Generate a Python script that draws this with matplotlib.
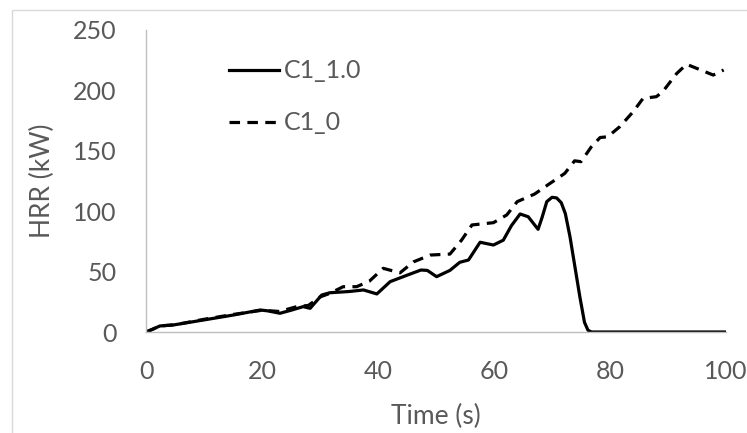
import matplotlib
matplotlib.use("Agg")
import matplotlib.pyplot as plt
from matplotlib.patches import Rectangle

# C1_1.0 (solid)
t_solid = [0, 1, 2.4, 4.7, 10, 15, 19.7, 21, 23.1, 25, 27.1, 28.3, 30.3, 31.7, 35,
           37.5, 39.8, 42.1, 45, 47.4, 48.5, 50.1, 52.4, 54.1, 55.6, 57.6, 59.9,
           61.6, 63, 64.5, 65.9, 67.6, 68.3, 69.1, 70, 70.8, 71.6, 72.3, 73.1, 74.8,
           75.6, 76.2, 76.8, 80, 90, 100]
hrr_solid = [0, 2, 5, 5.8, 10, 14, 18.2, 17.5, 15.5, 18, 21, 19.6, 30.6, 32.5, 33.5,
             34.8, 31.5, 41.7, 47, 51.3, 51, 45.8, 51, 57.7, 59.6, 74.3, 72,
             76, 88, 97.7, 95.4, 85, 95, 107.9, 111.5, 111, 107, 98, 78.9, 29.2,
             8, 1.5, 0, 0, 0, 0]

# C1_0 (dashed)
t_dash = [0, 1, 2.4, 5, 10, 15, 20, 23, 26, 28, 30, 31.7, 34, 36.3, 38.5, 40.9, 43.8,
          46.1, 49, 52.4, 54.4, 56.2, 59.9, 62.2, 64, 67, 69.5, 72.2, 73.9, 75,
          76.8, 78.3, 79.6, 81.7, 84, 85.7, 88, 89.1, 91.5, 93.2, 94.3, 97.8, 99.6]
hrr_dash = [0, 2, 5, 6, 10.5, 14.5, 18, 17, 21, 22, 29, 32, 37.5, 37.5, 42, 52.7, 49,
            58, 63.7, 64.5, 76, 88.6, 90.5, 96.9, 107.9, 114.2, 122.5, 131.3, 141.7, 141,
            153.4, 161, 161.6, 170, 182.4, 193.4, 194.8, 199, 214, 221.6, 219.5, 212.7, 216.9]

gray = "#595959"
plt.rcParams['font.family'] = ['Lato', 'DejaVu Sans']

fig = plt.figure(figsize=(7.47, 4.33), dpi=100)
fig.patches.append(Rectangle((12/747, -0.1), 1.2, 1 - 10/433 + 0.1, transform=fig.transFigure,
                             fill=False, edgecolor="#d9d9d9", linewidth=1))
ax = fig.add_axes([146/747, 1 - 332/433, 580/747, 302/433])

ax.plot(t_solid, hrr_solid, color="black", lw=2.3, label="C1_1.0", solid_joinstyle="round")
ax.plot(t_dash, hrr_dash, color="black", lw=2.3, linestyle=(0, (3.3, 2.3)), label="C1_0")

ax.set_xlim(0, 100)
ax.set_ylim(0, 250)
ax.set_xticks([0, 20, 40, 60, 80, 100])
ax.set_yticks([0, 50, 100, 150, 200, 250])
for s in ["top", "right"]:
    ax.spines[s].set_visible(False)
for s in ["left", "bottom"]:
    ax.spines[s].set_color("#bfbfbf")
    ax.spines[s].set_linewidth(1)
ax.tick_params(length=0, labelsize=18, colors=gray)
ax.tick_params(axis="y", pad=21)
ax.tick_params(axis="x", pad=20)

ax.set_xlabel("Time (s)", fontsize=19, color=gray, labelpad=15)
ax.set_ylabel("HRR (kW)", fontsize=19, color=gray, labelpad=13)

ax.legend(loc="upper left", bbox_to_anchor=(216/747, 1 - 47/433), bbox_transform=fig.transFigure,
          frameon=False, fontsize=18, handlelength=2.0, handletextpad=0.2, labelspacing=1.15,
          borderpad=0, labelcolor=gray)

fig.savefig("out.png", dpi=100)
